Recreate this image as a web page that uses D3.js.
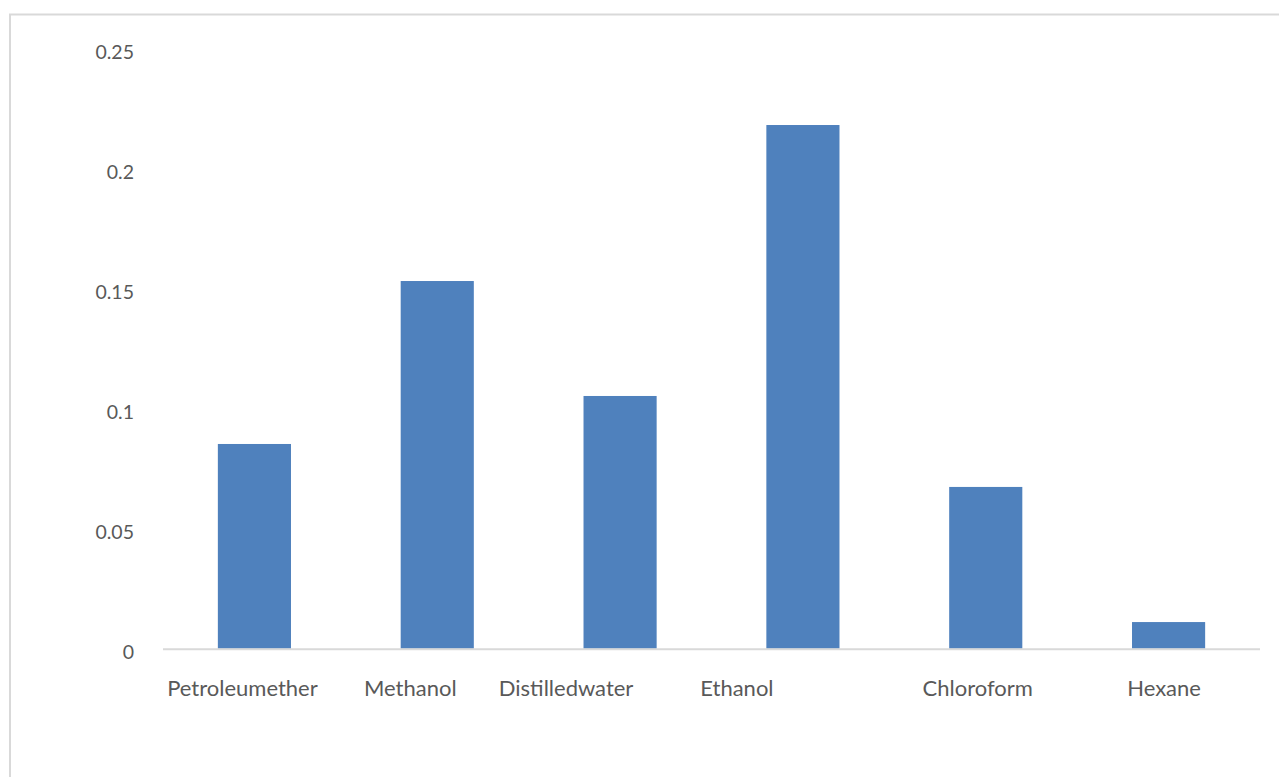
<!DOCTYPE html>
<html>
<head>
<meta charset="utf-8">
<script src="https://cdn.jsdelivr.net/npm/d3@7"></script>
<style>
  html, body { margin: 0; padding: 0; background: #fff; }
  svg { display: block; }
</style>
</head>
<body>
<svg id="chart" width="1279" height="777"></svg>
<script>
// Solvent extracts and their measured values
const categories = ["Petroleumether", "Methanol", "Distilledwater", "Ethanol", "Chloroform", "Hexane"];
const values = [0.0853, 0.1532, 0.1053, 0.2182, 0.0674, 0.0111];
const yTicks = [0, 0.05, 0.1, 0.15, 0.2, 0.25];
const yTickLabels = ["0", "0.05", "0.1", "0.15", "0.2", "0.25"];

// Layout
const W = 1279, H = 777;
const plot = { left: 163, right: 1260, top: 48.7, bottom: 648.7 };
// horizontal nudge of each category label relative to its bar centre
const labelNudge = [-12, -27, -54, -66, -8, -4.5];

const svg = d3.select("#chart");
const font = "Lato, 'Open Sans', sans-serif";

// Chart frame
svg.append("rect")
  .attr("x", 10).attr("y", 14.5)
  .attr("width", W + 10).attr("height", H + 10)
  .attr("fill", "none")
  .attr("stroke", "#d9d9d9")
  .attr("stroke-width", 2);

const x = d3.scaleBand()
  .domain(categories)
  .range([plot.left, plot.right])
  .paddingInner(0.6)
  .paddingOuter(0.3);

const y = d3.scaleLinear()
  .domain([0, 0.25])
  .range([plot.bottom, plot.top]);

// Bars
svg.append("g")
  .selectAll("rect")
  .data(values)
  .join("rect")
  .attr("x", (d, i) => x(categories[i]))
  .attr("y", d => y(d))
  .attr("width", x.bandwidth())
  .attr("height", d => y(0) - y(d))
  .attr("fill", "#4f81bd");

// Baseline
svg.append("line")
  .attr("x1", plot.left).attr("x2", plot.right)
  .attr("y1", y(0) + 0.5).attr("y2", y(0) + 0.5)
  .attr("stroke", "#d9d9d9")
  .attr("stroke-width", 2);

// Y axis labels
const yAxis = d3.axisLeft(y)
  .tickValues(yTicks)
  .tickFormat((d, i) => yTickLabels[i])
  .tickSize(0)
  .tickPadding(0);

const gy = svg.append("g")
  .attr("transform", `translate(134,0)`)
  .call(yAxis);
gy.select(".domain").remove();
gy.selectAll("text")
  .attr("font-family", font)
  .attr("font-size", 19.5)
  .attr("fill", "#595959")
  .attr("dy", "0.52em");

// X axis labels
const xAxis = d3.axisBottom(x).tickSize(0).tickPadding(0);
const gx = svg.append("g")
  .attr("transform", `translate(0,${plot.bottom})`)
  .call(xAxis);
gx.select(".domain").remove();
gx.selectAll("text")
  .attr("font-family", font)
  .attr("font-size", 22)
  .attr("fill", "#595959")
  .attr("dy", 0)
  .attr("y", 47)
  .attr("x", (d, i) => labelNudge[i]);
</script>
</body>
</html>
